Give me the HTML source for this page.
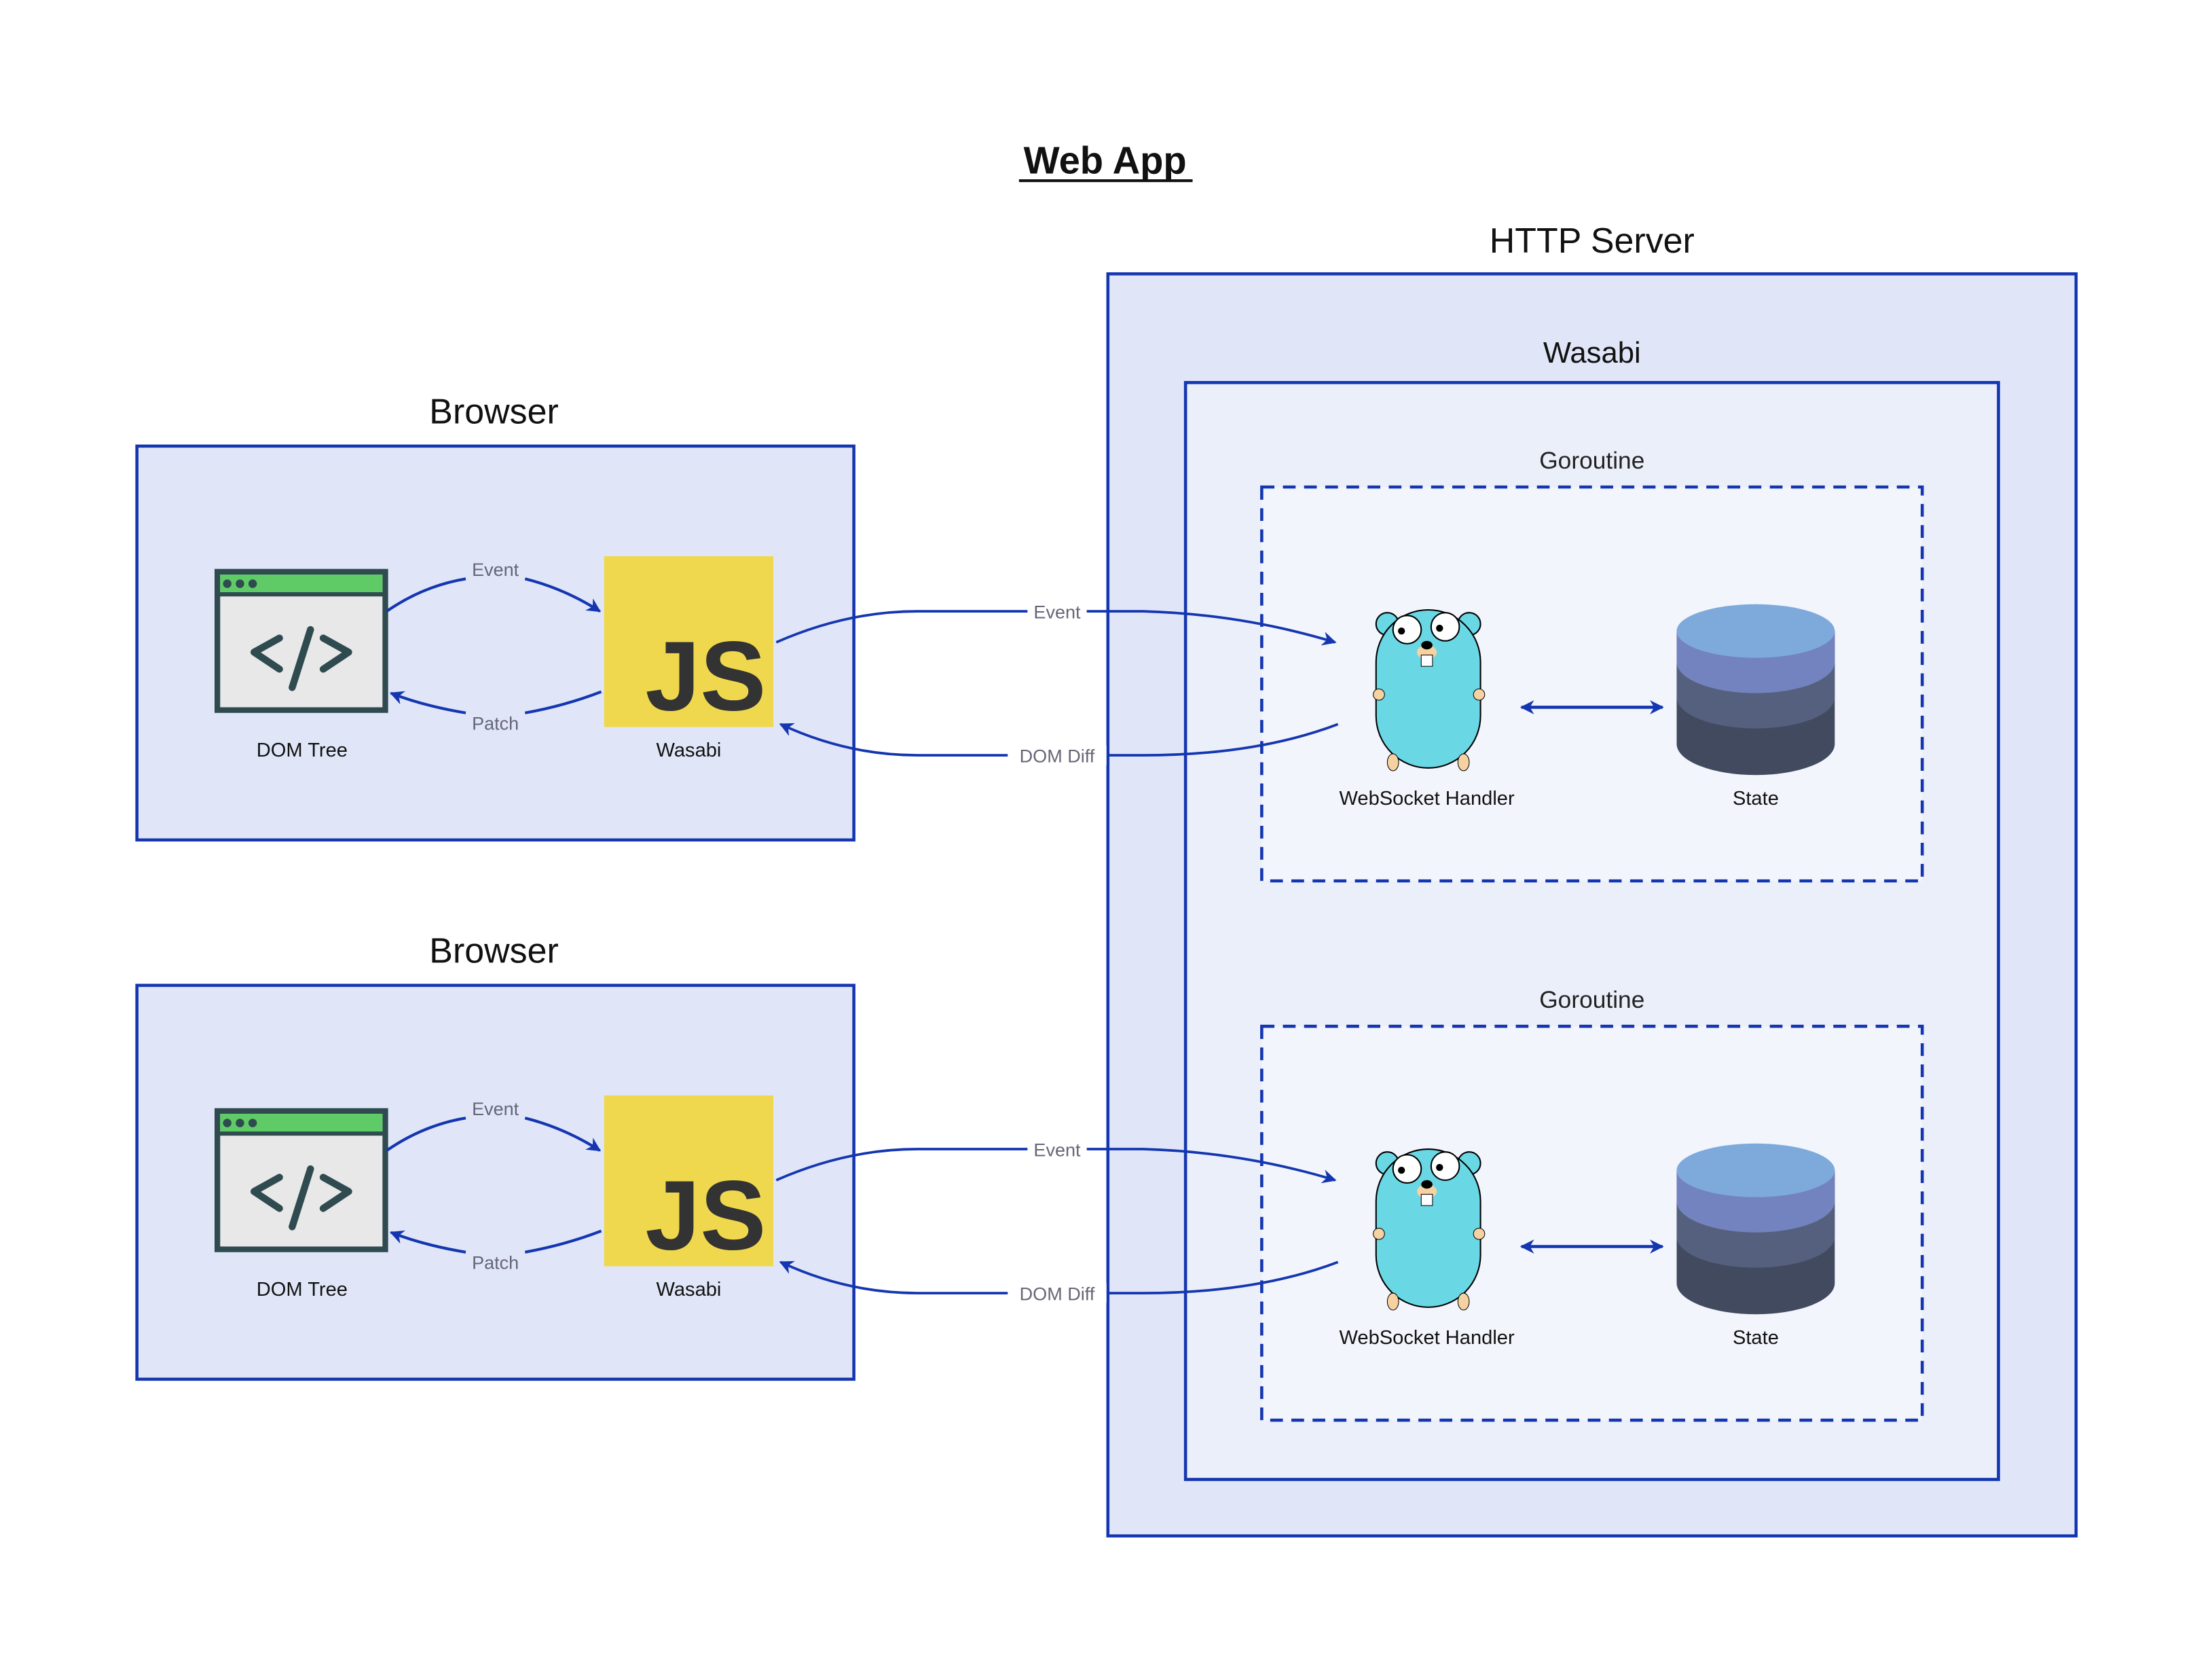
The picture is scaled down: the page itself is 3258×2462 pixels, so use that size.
<!DOCTYPE html>
<html><head><meta charset="utf-8"><style>
html,body{margin:0;padding:0;background:#fff}
svg{display:block}
text{font-family:"Liberation Sans",sans-serif}
</style></head><body>
<svg width="3258" height="2462" viewBox="0 0 1567.3 1184.4" xmlns="http://www.w3.org/2000/svg">
<defs>
<marker id="ah" viewBox="0 0 10 10" refX="9" refY="5" markerWidth="10" markerHeight="10" orient="auto-start-reverse" markerUnits="userSpaceOnUse">
<path d="M0,0 L10,5 L0,10 L3,5 z" fill="#1436b0"/></marker>
<g id="browser">
<rect x="97" y="316" width="508" height="279" fill="#e0e6f8" stroke="#1436b0" stroke-width="2.2"/>
<text x="350" y="300" font-size="25" text-anchor="middle" fill="#111">Browser</text>
<rect x="154" y="405" width="119" height="98" fill="#e8e8e8" stroke="#2f4b50" stroke-width="4"/>
<rect x="156" y="407" width="115" height="13" fill="#5fcb66"/>
<line x1="154" y1="421" x2="273" y2="421" stroke="#2f4b50" stroke-width="3"/>
<circle cx="161" cy="413.5" r="3" fill="#2f4b50"/><circle cx="170" cy="413.5" r="3" fill="#2f4b50"/><circle cx="179" cy="413.5" r="3" fill="#2f4b50"/>
<path d="M198,452 L180,462 L198,474 M229,452 L247,462 L229,474 M220,446 L207,487" fill="none" stroke="#2f4b50" stroke-width="5" stroke-linecap="round" stroke-linejoin="round"/>
<text x="214" y="536" font-size="14" text-anchor="middle" fill="#111">DOM Tree</text>
<rect x="428" y="394" width="120" height="121" fill="#efd84e"/>
<text x="500" y="503" font-size="70" font-weight="bold" text-anchor="middle" fill="#333">JS</text>
<text x="488" y="536" font-size="14" text-anchor="middle" fill="#111">Wasabi</text>
<path d="M274,433 Q300,415 330,410 M372,410 Q400,417 425,433" fill="none" stroke="#1436b0" stroke-width="2" marker-end="url(#ah)"/>
<text x="351" y="408" font-size="13" text-anchor="middle" fill="#667">Event</text>
<path d="M426,490 Q400,500 372,505 M330,505 Q300,500 277,491" fill="none" stroke="#1436b0" stroke-width="2" marker-end="url(#ah)"/>
<text x="351" y="517" font-size="13" text-anchor="middle" fill="#667">Patch</text>
</g>
<g id="gor">
<rect x="894" y="345" width="468" height="279" fill="#f3f5fc" stroke="#1436b0" stroke-width="2.2" stroke-dasharray="9 6"/>
<text x="1128" y="332" font-size="17" text-anchor="middle" fill="#222">Goroutine</text>
<ellipse cx="983" cy="442" rx="8" ry="8" fill="#6ad7e5" stroke="#000"/>
<ellipse cx="1041" cy="442" rx="8" ry="8" fill="#6ad7e5" stroke="#000"/>
<rect x="975" y="432" width="74" height="112" rx="37" fill="#6ad7e5" stroke="#000" stroke-width="1"/>
<ellipse cx="977" cy="492" rx="4" ry="4" fill="#f6d2a2" stroke="#000" stroke-width=".5"/>
<ellipse cx="1048" cy="492" rx="4" ry="4" fill="#f6d2a2" stroke="#000" stroke-width=".5"/>
<ellipse cx="987" cy="540" rx="4" ry="6" fill="#f6d2a2" stroke="#000" stroke-width=".5"/>
<ellipse cx="1037" cy="540" rx="4" ry="6" fill="#f6d2a2" stroke="#000" stroke-width=".5"/>
<circle cx="997" cy="446" r="10" fill="#fff" stroke="#000"/><circle cx="1024" cy="444" r="10" fill="#fff" stroke="#000"/>
<circle cx="993" cy="447" r="2.5"/><circle cx="1020" cy="445" r="2.5"/>
<ellipse cx="1011" cy="462" rx="7" ry="5" fill="#f6d2a2"/>
<ellipse cx="1011" cy="457" rx="4" ry="3"/>
<rect x="1007" y="464" width="8" height="8" fill="#fff" stroke="#000" stroke-width=".5"/>
<text x="1011" y="570" font-size="14" text-anchor="middle" fill="#111">WebSocket Handler</text>
<path d="M1078,501 L1178,501" stroke="#1436b0" stroke-width="2.2" marker-start="url(#ah)" marker-end="url(#ah)"/>
<path d="M1188,447 v80 a56,22 0 0 0 112,0 v-80 z" fill="#424a5f"/>
<path d="M1188,447 v47 a56,22 0 0 0 112,0 v-47 z" fill="#55607f"/>
<path d="M1188,447 v22 a56,22 0 0 0 112,0 v-22 z" fill="#7383bf"/>
<ellipse cx="1244" cy="447" rx="56" ry="19" fill="#7eaadb"/>
<text x="1244" y="570" font-size="14" text-anchor="middle" fill="#111">State</text>
</g>
<g id="conn">
<path d="M550,455 Q600,433 650,433 L810,433 Q880,435 946,455" fill="none" stroke="#1436b0" stroke-width="1.8" marker-end="url(#ah)"/>
<rect x="728" y="426" width="42" height="14" fill="#fff"/>
<text x="749" y="438" font-size="13" text-anchor="middle" fill="#667">Event</text>
<path d="M948,513 Q890,535 810,535 L650,535 Q600,535 553,513" fill="none" stroke="#1436b0" stroke-width="1.8" marker-end="url(#ah)"/>
<rect x="714" y="528" width="70" height="14" fill="#fff"/>
<text x="749" y="540" font-size="13" text-anchor="middle" fill="#667">DOM Diff</text>
</g>
</defs>
<text x="783" y="123" font-size="27" font-weight="bold" text-anchor="middle" fill="#111">Web App</text>
<line x1="722" y1="128" x2="845" y2="128" stroke="#111" stroke-width="2"/>
<rect x="785" y="194" width="686" height="894" fill="#e0e6f8" stroke="#1436b0" stroke-width="2.2"/>
<text x="1128" y="179" font-size="25" text-anchor="middle" fill="#111">HTTP Server</text>
<rect x="840" y="271" width="576" height="777" fill="#ebeffa" stroke="#1436b0" stroke-width="2.2"/>
<text x="1128" y="257" font-size="21" text-anchor="middle" fill="#111">Wasabi</text>
<use href="#browser"/>
<use href="#browser" transform="translate(0,382)"/>
<use href="#gor"/>
<use href="#gor" transform="translate(0,382)"/>
<use href="#conn"/>
<use href="#conn" transform="translate(0,381)"/>
</svg>
</body></html>
